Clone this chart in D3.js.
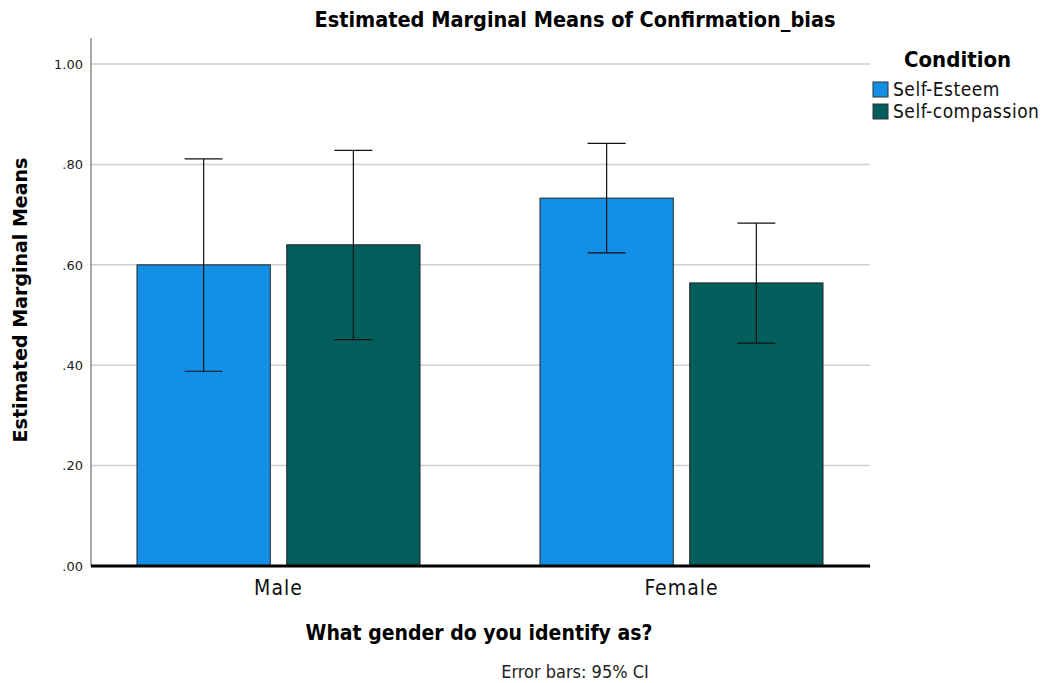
<!DOCTYPE html>
<html>
<head>
<meta charset="utf-8">
<script src="https://cdn.jsdelivr.net/npm/d3@7"></script>
<style>
  body { margin: 0; background: #fff; }
  text { font-family: "DejaVu Sans Condensed", "DejaVu Sans", sans-serif; }
</style>
</head>
<body>
<div id="chart"></div>
<script>
// data
const genders = ["Male", "Female"];
const conditions = ["Self-Esteem", "Self-compassion"];
const means = [[0.600, 0.640], [0.733, 0.564]];
const ciLow = [[0.388, 0.451], [0.624, 0.444]];
const ciHigh = [[0.811, 0.828], [0.842, 0.683]];
const yTicks = [0, 0.2, 0.4, 0.6, 0.8, 1.0];

const width = 1047, height = 683;
const colors = ["#1390e6", "#025e5c"];

const svg = d3.select("#chart").append("svg")
  .attr("width", width)
  .attr("height", height);

const plotLeft = 91, plotRight = 870, plotTop = 38, plotBottom = 566;

const y = d3.scaleLinear().domain([0, 1.052]).range([plotBottom, plotTop]);

// group scale (centres of Male/Female)
const x0 = d3.scaleBand().domain(genders).range([77, 883]);
const groupW = 283;
const x1 = d3.scaleBand().domain(conditions).range([0, groupW]).paddingInner(0.11);

// gridlines
svg.append("g")
  .selectAll("line")
  .data(yTicks.filter(d => d > 0))
  .join("line")
  .attr("x1", plotLeft).attr("x2", plotRight)
  .attr("y1", d => y(d)).attr("y2", d => y(d))
  .attr("stroke", "#cfcfcf")
  .attr("stroke-width", 1.5);

// y axis
const yAxis = svg.append("g")
  .attr("transform", `translate(${plotLeft},0)`)
  .call(d3.axisLeft(y).tickValues(yTicks).tickSize(0).tickPadding(8)
    .tickFormat(d => d3.format(".2f")(d).replace(/^0/, "")));
yAxis.select(".domain").remove();
yAxis.selectAll("text")
  .style("font-family", "DejaVu Sans, sans-serif")
  .style("font-size", "13px")
  .attr("fill", "#222");

svg.append("line")
  .attr("x1", plotLeft).attr("x2", plotLeft)
  .attr("y1", plotTop).attr("y2", plotBottom)
  .attr("stroke", "#555").attr("stroke-width", 1);

// bars
const groups = svg.append("g")
  .selectAll("g")
  .data(genders)
  .join("g")
  .attr("transform", g => `translate(${x0(g) + x0.bandwidth() / 2 - groupW / 2},0)`);

const cells = groups.selectAll("g")
  .data((g, gi) => conditions.map((c, ci) => ({
    c, ci, m: means[gi][ci], lo: ciLow[gi][ci], hi: ciHigh[gi][ci]
  })))
  .join("g");

cells.append("rect")
  .attr("x", d => x1(d.c))
  .attr("width", x1.bandwidth())
  .attr("y", d => y(d.m))
  .attr("height", d => y(0) - y(d.m))
  .attr("fill", d => colors[d.ci])
  .attr("stroke", "#222")
  .attr("stroke-width", 1);

// error bars
const cx = d => x1(d.c) + x1.bandwidth() / 2;
cells.append("line")
  .attr("x1", cx).attr("x2", cx)
  .attr("y1", d => y(d.lo)).attr("y2", d => y(d.hi))
  .attr("stroke", "#111").attr("stroke-width", 1.2);
cells.append("line")
  .attr("x1", d => cx(d) - 19).attr("x2", d => cx(d) + 19)
  .attr("y1", d => y(d.hi)).attr("y2", d => y(d.hi))
  .attr("stroke", "#111").attr("stroke-width", 1.2);
cells.append("line")
  .attr("x1", d => cx(d) - 19).attr("x2", d => cx(d) + 19)
  .attr("y1", d => y(d.lo)).attr("y2", d => y(d.lo))
  .attr("stroke", "#111").attr("stroke-width", 1.2);

// baseline
svg.append("line")
  .attr("x1", plotLeft).attr("x2", plotRight)
  .attr("y1", y(0)).attr("y2", y(0))
  .attr("stroke", "#000").attr("stroke-width", 3);

// x tick labels
svg.append("g")
  .selectAll("text")
  .data(genders)
  .join("text")
  .attr("x", g => x0(g) + x0.bandwidth() / 2)
  .attr("y", 595)
  .attr("text-anchor", "middle")
  .style("font-size", "21px")
  .style("letter-spacing", "1px")
  .attr("fill", "#111")
  .text(g => g);

// titles
svg.append("text")
  .attr("x", 575).attr("y", 27)
  .attr("text-anchor", "middle")
  .style("font-size", "21.5px").style("font-weight", "bold")
  .text("Estimated Marginal Means of Confirmation_bias");

svg.append("text")
  .attr("transform", "translate(27,300) rotate(-90)")
  .attr("text-anchor", "middle")
  .style("font-family", "DejaVu Sans, sans-serif")
  .style("font-size", "19px").style("font-weight", "bold")
  .text("Estimated Marginal Means");

svg.append("text")
  .attr("x", 479).attr("y", 640)
  .attr("text-anchor", "middle")
  .style("font-size", "21px").style("font-weight", "bold")
  .text("What gender do you identify as?");

svg.append("text")
  .attr("x", 575).attr("y", 678)
  .attr("text-anchor", "middle")
  .style("font-size", "18px")
  .attr("fill", "#222")
  .text("Error bars: 95% CI");

// legend
svg.append("text")
  .attr("x", 904).attr("y", 67)
  .style("font-size", "22px").style("font-weight", "bold")
  .text("Condition");

const legend = svg.append("g")
  .selectAll("g")
  .data(conditions)
  .join("g")
  .attr("transform", (d, i) => `translate(873,${82 + i * 22})`);
legend.append("rect")
  .attr("width", 15).attr("height", 15)
  .attr("fill", (d, i) => colors[i])
  .attr("stroke", "#333");
legend.append("text")
  .attr("x", 20).attr("y", 14)
  .style("font-size", "19px")
  .style("letter-spacing", "0.5px")
  .attr("fill", "#111")
  .text(d => d);
</script>
</body>
</html>
